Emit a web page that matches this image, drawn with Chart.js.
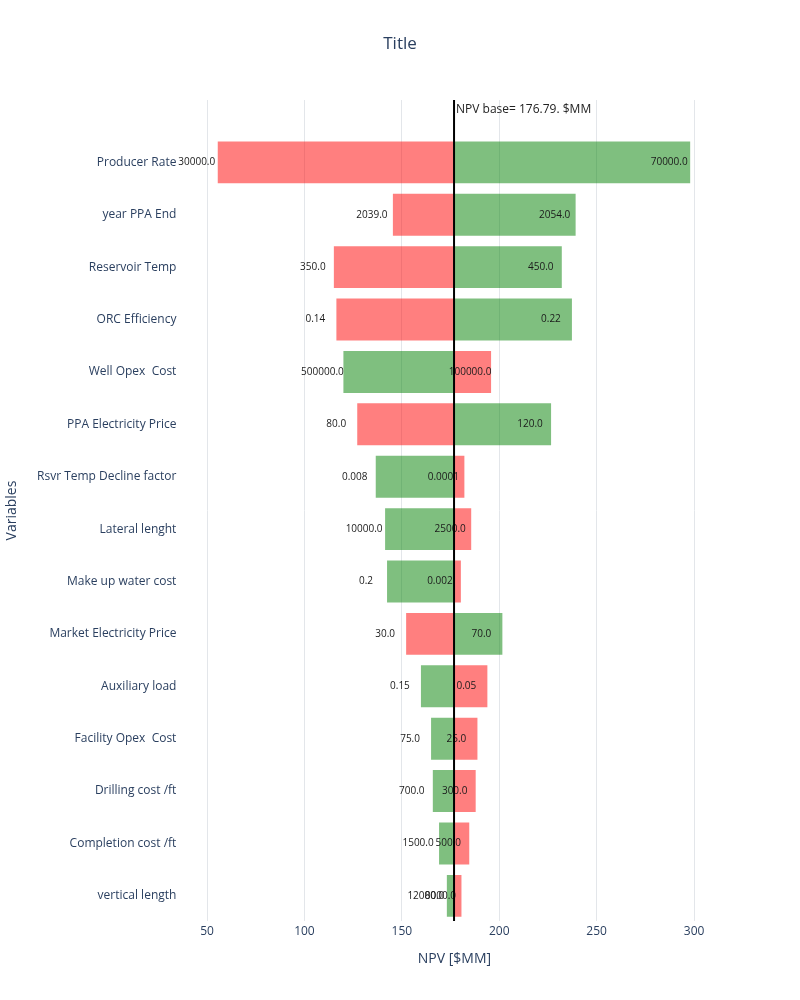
<!DOCTYPE html>
<html>
<head>
<meta charset="utf-8">
<script src="https://cdn.jsdelivr.net/npm/chart.js@4.4.1/dist/chart.umd.min.js"></script>
<style>
  html, body { margin: 0; padding: 0; background: #fff; }
  #wrap { width: 800px; height: 1000px; position: relative; }
</style>
</head>
<body>
<div id="wrap"><canvas id="tornadoChart"></canvas></div>
<script>
// Tornado data, top row first
const variables = ['Producer Rate', 'year PPA End', 'Reservoir Temp', 'ORC Efficiency', 'Well Opex  Cost',
    'PPA Electricity Price', 'Rsvr Temp Decline factor', 'Lateral lenght', 'Make up water cost',
    'Market Electricity Price', 'Auxiliary load', 'Facility Opex  Cost', 'Drilling cost /ft',
    'Completion cost /ft', 'vertical length'];
const lowInputs = ['30000.0', '2039.0', '350.0', '0.14', '100000.0', '80.0', '0.0001', '2500.0', '0.002',
    '30.0', '0.05', '25.0', '300.0', '500.0', '8000.0'];
const highInputs = ['70000.0', '2054.0', '450.0', '0.22', '500000.0', '120.0', '0.008', '10000.0', '0.2',
    '70.0', '0.15', '75.0', '700.0', '1500.0', '12000.0'];
const npvAtLow = [55.5, 145.4, 115.1, 116.4, 195.8, 127.1, 182.1, 185.6, 180.3, 152.2, 193.9, 188.8, 187.9, 184.6, 180.6];
const npvAtHigh = [298.0, 239.2, 232.1, 237.3, 120.0, 226.6, 136.6, 141.4, 142.4, 201.6, 159.8, 165.0, 165.9, 169.1, 173.1];
const npvBase = 176.79;
const xTicks = [50, 100, 150, 200, 250, 300];

const fontColor = '#2a3f5f';
Chart.defaults.font.family = "'Open Sans', 'Noto Sans', sans-serif";
Chart.defaults.color = fontColor;

// bar end labels, base line, annotation and page title
const tornadoExtras = {
    id: 'tornadoExtras',
    afterDatasetsDraw(chart) {
        const ctx = chart.ctx;
        const xs = chart.scales.x;
        const area = chart.chartArea;
        const texts = [lowInputs, highInputs];
        const ends = [npvAtLow, npvAtHigh];

        ctx.save();
        ctx.font = "10px 'Open Sans', sans-serif";
        ctx.fillStyle = '#1a1a1a';
        ctx.textAlign = 'center';
        ctx.textBaseline = 'middle';
        chart.data.datasets.forEach((ds, di) => {
            const meta = chart.getDatasetMeta(di);
            meta.data.forEach((bar, i) => {
                ctx.fillText(texts[di][i], xs.getPixelForValue(ends[di][i]) - 21, bar.y);
            });
        });

        // base NPV line
        const bx = xs.getPixelForValue(npvBase);
        ctx.strokeStyle = '#000';
        ctx.lineWidth = 2;
        ctx.beginPath();
        ctx.moveTo(bx, area.top);
        ctx.lineTo(bx, area.bottom);
        ctx.stroke();

        ctx.font = "12px 'Open Sans', sans-serif";
        ctx.fillStyle = '#222';
        ctx.textAlign = 'left';
        ctx.fillText('NPV base= ' + npvBase + '. $MM', bx + 2, area.top + 10);

        ctx.font = "17px 'Open Sans', sans-serif";
        ctx.fillStyle = fontColor;
        ctx.textAlign = 'center';
        ctx.fillText('Title', chart.width / 2, 44);
        ctx.restore();
    }
};

new Chart(document.getElementById('tornadoChart'), {
    type: 'bar',
    data: {
        datasets: [{
            label: 'Low',
            data: variables.map((v, i) => ({ x: [npvBase, npvAtLow[i]], y: i })),
            backgroundColor: 'rgba(255, 0, 0, 0.5)',
            grouped: false
        }, {
            label: 'High',
            data: variables.map((v, i) => ({ x: [npvBase, npvAtHigh[i]], y: i })),
            backgroundColor: 'rgba(0, 128, 0, 0.5)',
            grouped: false
        }]
    },
    options: {
        indexAxis: 'y',
        responsive: true, maintainAspectRatio: false,
        animation: false,
        barPercentage: 0.8,
        categoryPercentage: 1,
        layout: { padding: { left: 0, right: 84.5, top: 100, bottom: 32.8 } },
        scales: {
            x: {
                type: 'linear',
                min: 43, max: 311,
                afterBuildTicks: (scale) => { scale.ticks = xTicks.map(v => ({ value: v })); },
                grid: { color: '#e3e6ea', drawTicks: false },
                border: { display: false },
                ticks: { font: { size: 12 }, color: fontColor, padding: 3 },
                title: { display: true, text: 'NPV [$MM]', font: { size: 14 }, color: fontColor, padding: { top: 9, bottom: 0 } }
            },
            y: {
                type: 'linear',
                reverse: true,
                offset: false,
                min: -1.19, max: 14.48,
                afterBuildTicks: (scale) => { scale.ticks = variables.map((v, i) => ({ value: i })); },
                afterFit: (scale) => { scale.width = 193.4; },
                grid: { display: false, drawTicks: false, offset: false },
                border: { display: false },
                ticks: { autoSkip: false, font: { size: 12 }, color: fontColor, padding: 17,
                    callback: (v) => variables[v] },
                title: { display: true, text: 'Variables', font: { size: 14 }, color: fontColor, padding: { top: 4, bottom: 0 } }
            }
        },
        plugins: {
            legend: { display: false },
            tooltip: { enabled: false },
            title: { display: false }
        }
    },
    plugins: [tornadoExtras]
});
</script>
</body>
</html>
